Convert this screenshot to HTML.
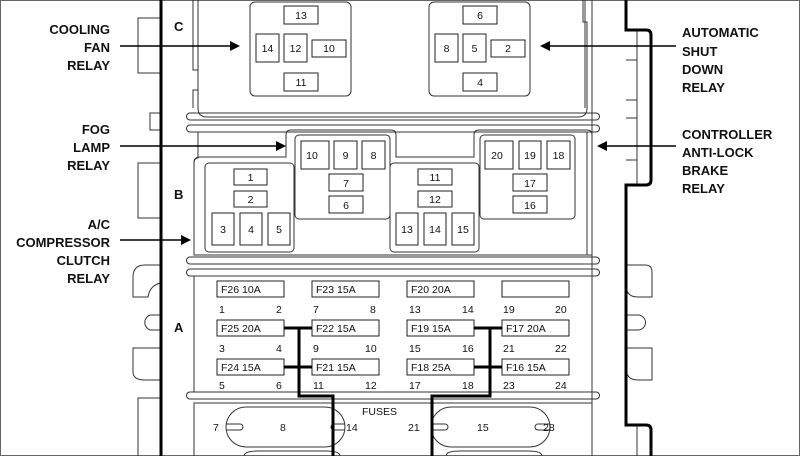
<!DOCTYPE html>
<html><head><style>
html,body{margin:0;padding:0;background:#fff;}
svg{display:block;}
text{font-family:"Liberation Sans",Arial,sans-serif;fill:#111;}
.l{font-weight:bold;font-size:13px;}
.n{font-size:10.5px;}
.t{fill:none;stroke:#333;stroke-width:1;}
.c{fill:#fff;stroke:#222;stroke-width:1;}
.k{fill:none;stroke:#000;stroke-width:3;}
.a{stroke:#000;stroke-width:1.5;fill:none;}
</style></head><body>
<svg width="800" height="456" viewBox="0 0 800 456" xmlns="http://www.w3.org/2000/svg">
<rect x="0.5" y="0.5" width="799" height="455" fill="none" stroke="#666"/>
<path class="t" d="M161 18H138V73H161M161 113H150V130H161M161 163H138V218H161"/>
<path class="t" d="M161 265H145Q133 265 133 277V297H148Q150 285 161 283M161 315H150A8 8 0 0 0 150 330H161M161 348H133V372Q133 380 145 380H161M161 398H138V456"/>
<path class="t" d="M592 0V456M585 0V108M637 30V185M626 60H637M626 100H637M626 118H637M626 160H637"/>
<path class="t" d="M626 265H645Q652 265 652 272V297H638Q626 297 626 285M626 315H638A7.5 7.5 0 0 1 638 330H626M626 348H652V380H638Q626 380 626 368M637 425V456"/>
<path class="k" d="M626 0V30H646Q651 30 651 35V180Q651 185 646 185H626V425H646Q651 425 651 430V456"/>
<path class="k" d="M161 0V456"/>
<path class="t" d="M193 0V70H198M198 0V108Q198 117 207 117H578Q587 117 587 108V22H583V0M198 70V90H193V108"/>
<path class="t" d="M190 113H596A3.5 3.5 0 0 1 596 120H190A3.5 3.5 0 0 1 190 113Z"/>
<path class="t" d="M190 125H596A3.5 3.5 0 0 1 596 132H190A3.5 3.5 0 0 1 190 125Z"/>
<text x="174" y="31" class="l">C</text>
<rect class="t" x="250" y="2" width="101" height="94" rx="5"/>
<rect class="c" x="284" y="6" width="34" height="18"/><text class="n" x="301" y="19" text-anchor="middle">13</text>
<rect class="c" x="256" y="34" width="23" height="28"/><text class="n" x="267.5" y="52" text-anchor="middle">14</text>
<rect class="c" x="284" y="34" width="23" height="28"/><text class="n" x="295.5" y="52" text-anchor="middle">12</text>
<rect class="c" x="312" y="40" width="34" height="17"/><text class="n" x="329" y="52" text-anchor="middle">10</text>
<rect class="c" x="284" y="73" width="34" height="18"/><text class="n" x="301" y="86" text-anchor="middle">11</text>
<rect class="t" x="429" y="2" width="101" height="94" rx="5"/>
<rect class="c" x="463" y="6" width="34" height="18"/><text class="n" x="480" y="19" text-anchor="middle">6</text>
<rect class="c" x="435" y="34" width="23" height="28"/><text class="n" x="446.5" y="52" text-anchor="middle">8</text>
<rect class="c" x="463" y="34" width="23" height="28"/><text class="n" x="474.5" y="52" text-anchor="middle">5</text>
<rect class="c" x="491" y="40" width="34" height="17"/><text class="n" x="508" y="52" text-anchor="middle">2</text>
<rect class="c" x="463" y="73" width="34" height="18"/><text class="n" x="480" y="86" text-anchor="middle">4</text>
<text x="174" y="199" class="l">B</text>
<path class="t" d="M198 132V158Q194 158 194 163V252M587 132V255M194 252V255"/>
<path class="t" d="M194 163Q194 157 200 157H286V135Q286 130 291 130H391Q396 130 396 135V157H474V135Q474 130 479 130H587Q592 130 592 135V255H194Z" fill="none"/>
<rect class="t" x="205" y="163" width="89" height="89" rx="4"/>
<rect class="c" x="234" y="169" width="33" height="16"/><text class="n" x="250.5" y="181" text-anchor="middle">1</text>
<rect class="c" x="234" y="191" width="33" height="16"/><text class="n" x="250.5" y="203" text-anchor="middle">2</text>
<rect class="c" x="212" y="213" width="22" height="32"/><text class="n" x="223" y="233" text-anchor="middle">3</text>
<rect class="c" x="240" y="213" width="22" height="32"/><text class="n" x="251" y="233" text-anchor="middle">4</text>
<rect class="c" x="268" y="213" width="22" height="32"/><text class="n" x="279" y="233" text-anchor="middle">5</text>
<rect class="t" x="295" y="135" width="95" height="84" rx="4"/>
<rect class="c" x="301" y="141" width="28" height="28"/><text class="n" x="312" y="159" text-anchor="middle">10</text>
<rect class="c" x="334" y="141" width="23" height="28"/><text class="n" x="345.5" y="159" text-anchor="middle">9</text>
<rect class="c" x="362" y="141" width="23" height="28"/><text class="n" x="373.5" y="159" text-anchor="middle">8</text>
<rect class="c" x="329" y="174" width="34" height="17"/><text class="n" x="346" y="187" text-anchor="middle">7</text>
<rect class="c" x="329" y="196" width="34" height="17"/><text class="n" x="346" y="209" text-anchor="middle">6</text>
<rect class="t" x="390" y="163" width="89" height="89" rx="4" fill="#fff"/>
<rect class="c" x="418" y="169" width="34" height="16"/><text class="n" x="435" y="181" text-anchor="middle">11</text>
<rect class="c" x="418" y="191" width="34" height="16"/><text class="n" x="435" y="203" text-anchor="middle">12</text>
<rect class="c" x="396" y="213" width="22" height="32"/><text class="n" x="407" y="233" text-anchor="middle">13</text>
<rect class="c" x="424" y="213" width="22" height="32"/><text class="n" x="435" y="233" text-anchor="middle">14</text>
<rect class="c" x="452" y="213" width="22" height="32"/><text class="n" x="463" y="233" text-anchor="middle">15</text>
<rect class="t" x="480" y="135" width="95" height="84" rx="4"/>
<rect class="c" x="485" y="141" width="28" height="28"/><text class="n" x="497" y="159" text-anchor="middle">20</text>
<rect class="c" x="519" y="141" width="22" height="28"/><text class="n" x="530" y="159" text-anchor="middle">19</text>
<rect class="c" x="547" y="141" width="23" height="28"/><text class="n" x="558.5" y="159" text-anchor="middle">18</text>
<rect class="c" x="513" y="174" width="34" height="17"/><text class="n" x="530" y="187" text-anchor="middle">17</text>
<rect class="c" x="513" y="196" width="34" height="17"/><text class="n" x="530" y="209" text-anchor="middle">16</text>
<path class="t" d="M190 257H596A3.5 3.5 0 0 1 596 264H190A3.5 3.5 0 0 1 190 257Z"/>
<path class="t" d="M190 269H596A3.5 3.5 0 0 1 596 276H190A3.5 3.5 0 0 1 190 269Z"/>
<path class="t" d="M190 392H596A3.5 3.5 0 0 1 596 399H190A3.5 3.5 0 0 1 190 392Z"/>
<path class="t" d="M194 276V392M592 276V392"/>
<text x="174" y="332" class="l">A</text>
<g class="n">
<rect class="c" x="217" y="281" width="67" height="16"/><text x="221" y="293">F26 10A</text><text x="219" y="313">1</text><text x="276" y="313">2</text>
<rect class="c" x="312" y="281" width="67" height="16"/><text x="316" y="293">F23 15A</text><text x="313" y="313">7</text><text x="370" y="313">8</text>
<rect class="c" x="407" y="281" width="67" height="16"/><text x="411" y="293">F20 20A</text><text x="409" y="313">13</text><text x="462" y="313">14</text>
<rect class="c" x="502" y="281" width="67" height="16"/><text x="503" y="313">19</text><text x="555" y="313">20</text>
<rect class="c" x="217" y="320" width="67" height="16"/><text x="221" y="332">F25 20A</text><text x="219" y="352">3</text><text x="276" y="352">4</text>
<rect class="c" x="312" y="320" width="67" height="16"/><text x="316" y="332">F22 15A</text><text x="313" y="352">9</text><text x="365" y="352">10</text>
<rect class="c" x="407" y="320" width="67" height="16"/><text x="411" y="332">F19 15A</text><text x="409" y="352">15</text><text x="462" y="352">16</text>
<rect class="c" x="502" y="320" width="67" height="16"/><text x="506" y="332">F17 20A</text><text x="503" y="352">21</text><text x="555" y="352">22</text>
<rect class="c" x="217" y="359" width="67" height="16"/><text x="221" y="371">F24 15A</text><text x="219" y="389">5</text><text x="276" y="389">6</text>
<rect class="c" x="312" y="359" width="67" height="16"/><text x="316" y="371">F21 15A</text><text x="313" y="389">11</text><text x="365" y="389">12</text>
<rect class="c" x="407" y="359" width="67" height="16"/><text x="411" y="371">F18 25A</text><text x="409" y="389">17</text><text x="462" y="389">18</text>
<rect class="c" x="502" y="359" width="67" height="16"/><text x="506" y="371">F16 15A</text><text x="503" y="389">23</text><text x="555" y="389">24</text>
</g>
<path class="t" d="M194 456V403H592V456"/>
<rect class="t" x="226" y="407" width="119" height="40" rx="20"/>
<rect class="t" x="431" y="407" width="119" height="40" rx="20"/>
<path class="t" d="M226 424H240A3 3 0 0 1 240 430H226M345 424H334A3 3 0 0 0 334 430H345M431 424H445A3 3 0 0 1 445 430H431M550 424H538A3 3 0 0 0 538 430H550"/>
<path class="t" d="M244 456Q244 451 258 451H326Q340 451 340 456M446 456Q446 451 460 451H528Q542 451 542 456"/>
<g class="n"><text x="362" y="415">FUSES</text><text x="213" y="431">7</text><text x="280" y="431">8</text><text x="346" y="431">14</text><text x="408" y="431">21</text><text x="477" y="431">15</text><text x="543" y="431">28</text></g>
<path class="k" d="M284 328H312M284 367H312M299 328V396H333V456"/>
<path class="k" d="M474 328H502M474 367H502M490 328V396H432V456"/>
<g class="l" text-anchor="end"><text x="110" y="34">COOLING</text><text x="110" y="52">FAN</text><text x="110" y="70">RELAY</text>
<text x="110" y="134">FOG</text><text x="110" y="152">LAMP</text><text x="110" y="170">RELAY</text>
<text x="110" y="229">A/C</text><text x="110" y="247">COMPRESSOR</text><text x="110" y="265">CLUTCH</text><text x="110" y="283">RELAY</text></g>
<g class="l"><text x="682" y="37">AUTOMATIC</text><text x="682" y="56">SHUT</text><text x="682" y="74">DOWN</text><text x="682" y="92">RELAY</text>
<text x="682" y="139">CONTROLLER</text><text x="682" y="157">ANTI-LOCK</text><text x="682" y="175">BRAKE</text><text x="682" y="193">RELAY</text></g>
<path class="a" d="M120 46H232M120 146H278M120 240H184M676 46H548M676 146H604"/>
<path d="M240 46L230 41V51Z M286 146L276 141V151Z M191 240L181 235V245Z M540 46L550 41V51Z M597 146L607 141V151Z" fill="#000"/>
</svg>
</body></html>
